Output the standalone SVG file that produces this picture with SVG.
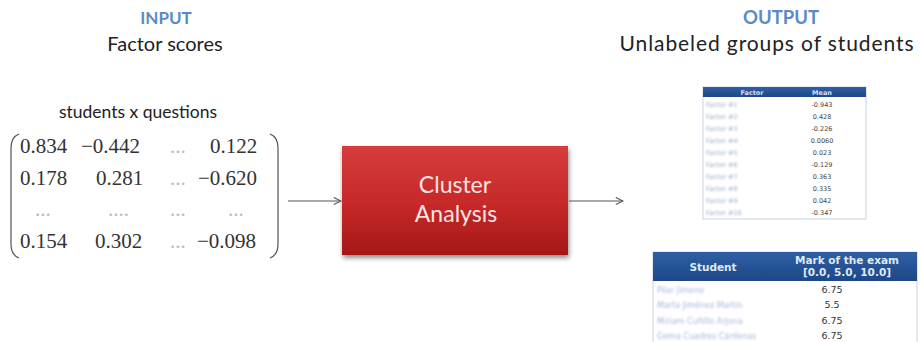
<svg xmlns="http://www.w3.org/2000/svg" width="920" height="342" viewBox="0 0 920 342">
  <defs>
    <linearGradient id="redFill" x1="0" y1="0" x2="0" y2="1">
      <stop offset="0" stop-color="#d63c3c"/>
      <stop offset="0.55" stop-color="#c62828"/>
      <stop offset="1" stop-color="#a51818"/>
    </linearGradient>
    <linearGradient id="hdrFill" x1="0" y1="0" x2="0" y2="1">
      <stop offset="0" stop-color="#2f5fa3"/>
      <stop offset="1" stop-color="#1d4789"/>
    </linearGradient>
    <filter id="shadow" x="-10%" y="-10%" width="125%" height="130%">
      <feGaussianBlur in="SourceAlpha" stdDeviation="2.5"/>
      <feOffset dx="1" dy="3"/>
      <feComponentTransfer><feFuncA type="linear" slope="0.45"/></feComponentTransfer>
      <feMerge><feMergeNode/><feMergeNode in="SourceGraphic"/></feMerge>
    </filter>
    <filter id="soft"><feGaussianBlur stdDeviation="0.9"/></filter>
    <marker id="open" viewBox="0 0 10 10" refX="9" refY="5" markerWidth="9" markerHeight="9" orient="auto" markerUnits="userSpaceOnUse">
      <path d="M1,1 L9,5 L1,9" fill="none" stroke="#555" stroke-width="1.2"/>
    </marker>
  </defs>
  <style>
    .head { font-family: Lato, "Liberation Sans", sans-serif; font-weight: bold; fill: #5b8ac6; text-anchor: middle; }
    .sub { font-family: Lato, "Liberation Sans", sans-serif; fill: #222; text-anchor: middle; }
    .num { font-family: "Liberation Serif", serif; font-size: 21px; fill: #333; }
    .dots { font-family: "Liberation Serif", serif; font-size: 21px; fill: #bbb; }
    .paren { fill: none; stroke: #555; stroke-width: 1.2; }
    .box-label { font-family: Lato, "Liberation Sans", sans-serif; font-size: 23px; fill: #fbe4e0; text-anchor: middle; }
    .edge { stroke: #555; stroke-width: 1.1; fill: none; }
    .t1h { font-family: "DejaVu Sans", sans-serif; font-size: 6.5px; font-weight: bold; fill: #cfe0f5; text-anchor: middle; }
    .t1k { font-family: "DejaVu Sans", sans-serif; font-size: 6.5px; fill: #8aa2c4; }
    .t1v { font-family: "DejaVu Sans", sans-serif; font-size: 6.5px; fill: #444; text-anchor: middle; }
    .t2h { font-family: "DejaVu Sans", sans-serif; font-size: 10.5px; font-weight: bold; fill: #dfe9f7; text-anchor: middle; }
    .t2k { font-family: "DejaVu Sans", sans-serif; font-size: 8px; fill: #a7b8d6; }
    .t2v { font-family: "DejaVu Sans", sans-serif; font-size: 9.5px; fill: #333; text-anchor: middle; }
  </style>

  <rect width="920" height="342" fill="#ffffff"/>

  <!-- input side -->
  <g id="input">
    <text class="head" x="166" y="24" font-size="17">INPUT</text>
    <text class="sub" x="165" y="51" font-size="20">Factor scores</text>
    <text class="sub" x="138" y="118" font-size="17.5">students x questions</text>
    <!-- matrix brackets -->
    <path class="paren" d="M19,134 Q11,137 11,148 L11,244 Q11,255 19,258"/>
    <path class="paren" d="M270,134 Q278,137 278,148 L278,244 Q278,255 270,258"/>
    <!-- matrix entries -->
    <text class="num" x="20" y="153">0.834</text>
    <text class="num" x="81" y="153">−0.442</text>
    <text class="dots" x="170" y="153">...</text>
    <text class="num" x="210" y="153">0.122</text>
    <text class="num" x="20" y="185">0.178</text>
    <text class="num" x="96" y="185">0.281</text>
    <text class="dots" x="170" y="185">...</text>
    <text class="num" x="198" y="185">−0.620</text>
    <text class="dots" x="35" y="216">...</text>
    <text class="dots" x="108" y="216">....</text>
    <text class="dots" x="170" y="216">...</text>
    <text class="dots" x="228" y="216">...</text>
    <text class="num" x="20" y="248">0.154</text>
    <text class="num" x="95" y="248">0.302</text>
    <text class="dots" x="170" y="248">...</text>
    <text class="num" x="197" y="248">−0.098</text>
  </g>

  <!-- processing step -->
  <g id="cluster-analysis">
    <rect x="342" y="146" width="226" height="109" fill="url(#redFill)" filter="url(#shadow)"/>
    <text class="box-label" x="455" y="193">Cluster</text>
    <text class="box-label" x="456" y="222">Analysis</text>
  </g>

  <!-- output side -->
  <g id="output">
    <text class="head" x="781" y="24" font-size="18.5">OUTPUT</text>
    <text class="sub" x="767" y="51" font-size="21" letter-spacing="0.9">Unlabeled groups of students</text>
  </g>

  <g id="factor-table">
    <rect x="703" y="87" width="163" height="132" fill="#fff" stroke="#c9d3e2" stroke-width="1"/>
    <rect x="703" y="87" width="163" height="10" fill="url(#hdrFill)"/>
    <text class="t1h" x="752" y="95">Factor</text>
    <text class="t1h" x="822" y="95">Mean</text>
    <g filter="url(#soft)" opacity="0.9">
      <text class="t1k" x="706" y="107">Factor #1</text>
      <text class="t1k" x="706" y="119">Factor #2</text>
      <text class="t1k" x="706" y="131">Factor #3</text>
      <text class="t1k" x="706" y="143">Factor #4</text>
      <text class="t1k" x="706" y="155">Factor #5</text>
      <text class="t1k" x="706" y="167">Factor #6</text>
      <text class="t1k" x="706" y="179">Factor #7</text>
      <text class="t1k" x="706" y="191">Factor #8</text>
      <text class="t1k" x="706" y="203">Factor #9</text>
      <text class="t1k" x="706" y="215">Factor #10</text>
    </g>
    <text class="t1v" x="822" y="107">-0.943</text>
    <text class="t1v" x="822" y="119">0.428</text>
    <text class="t1v" x="822" y="131">-0.226</text>
    <text class="t1v" x="822" y="143">0.0060</text>
    <text class="t1v" x="822" y="155">0.023</text>
    <text class="t1v" x="822" y="167">-0.129</text>
    <text class="t1v" x="822" y="179">0.363</text>
    <text class="t1v" x="822" y="191">0.335</text>
    <text class="t1v" x="822" y="203">0.042</text>
    <text class="t1v" x="822" y="215">-0.347</text>
  </g>

  <g id="student-table">
    <rect x="653" y="252" width="264" height="92" fill="#fff" stroke="#c9d3e2" stroke-width="1"/>
    <rect x="653" y="252" width="264" height="29" fill="url(#hdrFill)"/>
    <text class="t2h" x="713" y="271">Student</text>
    <text class="t2h" x="847" y="264">Mark of the exam</text>
    <text class="t2h" x="847" y="276">[0.0, 5.0, 10.0]</text>
    <g filter="url(#soft)">
      <text class="t2k" x="657" y="293">Pilar Jimeno</text>
      <text class="t2k" x="657" y="308">Marta Jiménez Martín</text>
      <text class="t2k" x="657" y="324">Miriam Cuñillo Arjona</text>
      <text class="t2k" x="657" y="339">Gema Cuadros Cárdenas</text>
    </g>
    <text class="t2v" x="832" y="293">6.75</text>
    <text class="t2v" x="832" y="308">5.5</text>
    <text class="t2v" x="832" y="324">6.75</text>
    <text class="t2v" x="832" y="339">6.75</text>
  </g>

  <!-- connectors -->
  <g id="connectors">
    <line class="edge" x1="288" y1="201" x2="341" y2="201" marker-end="url(#open)"/>
    <line class="edge" x1="569" y1="201" x2="623" y2="201" marker-end="url(#open)"/>
  </g>
</svg>
